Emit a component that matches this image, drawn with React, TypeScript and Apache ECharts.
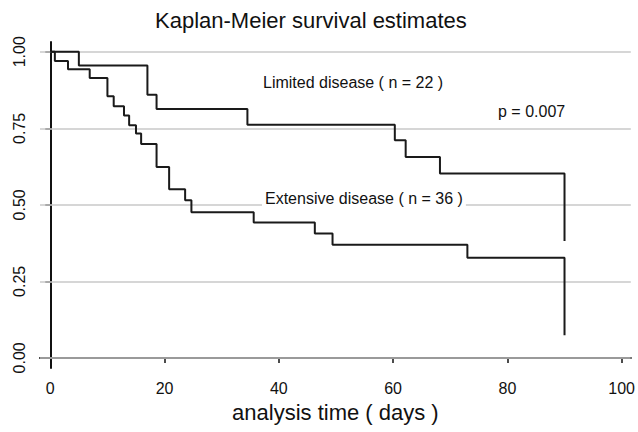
import React, { useEffect, useRef } from "react";
import * as echarts from "echarts";

const xTicks = [0, 20, 40, 60, 80, 100];
const yTicks = [0, 0.25, 0.5, 0.75, 1];

const limitedTimes = [0, 5, 17, 18.6, 34.5, 60.3, 62.2, 68.2, 90];
const limitedSurv = [1, 0.955, 0.86, 0.813, 0.762, 0.711, 0.656, 0.602, 0.382];

const extensiveTimes = [0, 0.8, 3.1, 6.9, 10, 11.1, 12.9, 13.8, 15, 15.9, 18.6, 20.8, 23.6, 24.7, 35.6, 46.3, 49.4, 73, 90];
const extensiveSurv = [1, 0.97, 0.943, 0.914, 0.855, 0.822, 0.792, 0.76, 0.733, 0.699, 0.624, 0.551, 0.515, 0.476, 0.442, 0.406, 0.37, 0.327, 0.074];

const FONT = "Liberation Sans, Arial, Helvetica, sans-serif";

export default function App() {
  const ref = useRef<HTMLDivElement>(null);
  useEffect(() => {
    document.body.style.margin = "0";
    const chart = echarts.init(ref.current!, null, { renderer: "svg" });
    const lim = limitedTimes.map((t, i) => [t, limitedSurv[i]]);
    const ext = extensiveTimes.map((t, i) => [t, extensiveSurv[i]]);
    chart.setOption({
      animation: false,
      backgroundColor: "#fff",
      textStyle: { fontFamily: FONT },
      title: {
        text: "Kaplan-Meier survival estimates",
        left: 150,
        top: 4,
        textStyle: { fontFamily: FONT, fontSize: 22, fontWeight: "normal", color: "#111" },
      },
      grid: { left: 40, right: 4, top: 42, bottom: 64 },
      xAxis: {
        type: "value",
        min: -1.8,
        max: 101.6,
        name: "analysis time ( days )",
        nameLocation: "middle",
        nameGap: 33,
        nameTextStyle: { fontFamily: FONT, fontSize: 22, color: "#111" },
        axisLine: { show: true, lineStyle: { color: "#111", width: 2 } },
        axisTick: { show: true, length: 5, customValues: xTicks, lineStyle: { color: "#111", width: 1.5 } },
        axisLabel: { customValues: xTicks, fontSize: 16, color: "#111", margin: 12, fontFamily: FONT },
        splitLine: { show: false },
      },
      yAxis: {
        type: "value",
        min: -0.033,
        max: 1.032,
        axisLine: { show: true, lineStyle: { color: "#111", width: 2 } },
        axisTick: { show: true, length: 5, customValues: yTicks, lineStyle: { color: "#111", width: 1.5 } },
        axisLabel: {
          customValues: yTicks,
          fontSize: 16,
          color: "#111",
          rotate: 90,
          margin: 13,
          fontFamily: FONT,
          formatter: (v: number) => v.toFixed(2),
        },
        splitLine: { show: false },
      },
      series: [
        {
          type: "line",
          data: [],
          silent: true,
          markLine: {
            silent: true,
            symbol: "none",
            label: { show: false },
            lineStyle: { color: "#c8c8c8", width: 1.5, type: "solid" },
            data: yTicks.map((v) => ({ yAxis: v })),
          },
        },
        {
          type: "line",
          name: "Limited",
          step: "end",
          data: lim,
          showSymbol: false,
          lineStyle: { color: "#1a1a1a", width: 2 },
          z: 5,
        },
        {
          type: "line",
          name: "Extensive",
          step: "end",
          data: ext,
          showSymbol: false,
          lineStyle: { color: "#1a1a1a", width: 2 },
          z: 5,
        },
      ],
      graphic: [
        {
          type: "text",
          left: 263,
          top: 74,
          style: { text: "Limited disease ( n = 22 )", fontSize: 16, fill: "#111", fontFamily: FONT },
        },
        {
          type: "text",
          left: 498,
          top: 103,
          style: { text: "p = 0.007", fontSize: 16, fill: "#111", fontFamily: FONT },
        },
        {
          type: "text",
          left: 262,
          top: 188,
          z: 10,
          style: {
            text: "Extensive disease ( n = 36 )",
            fontSize: 16,
            fill: "#111",
            fontFamily: FONT,
            backgroundColor: "#fff",
            padding: [2, 3],
          },
        },
      ],
    });
    return () => chart.dispose();
  }, []);
  return <div ref={ref} style={{ width: 638, height: 432 }} />;
}
